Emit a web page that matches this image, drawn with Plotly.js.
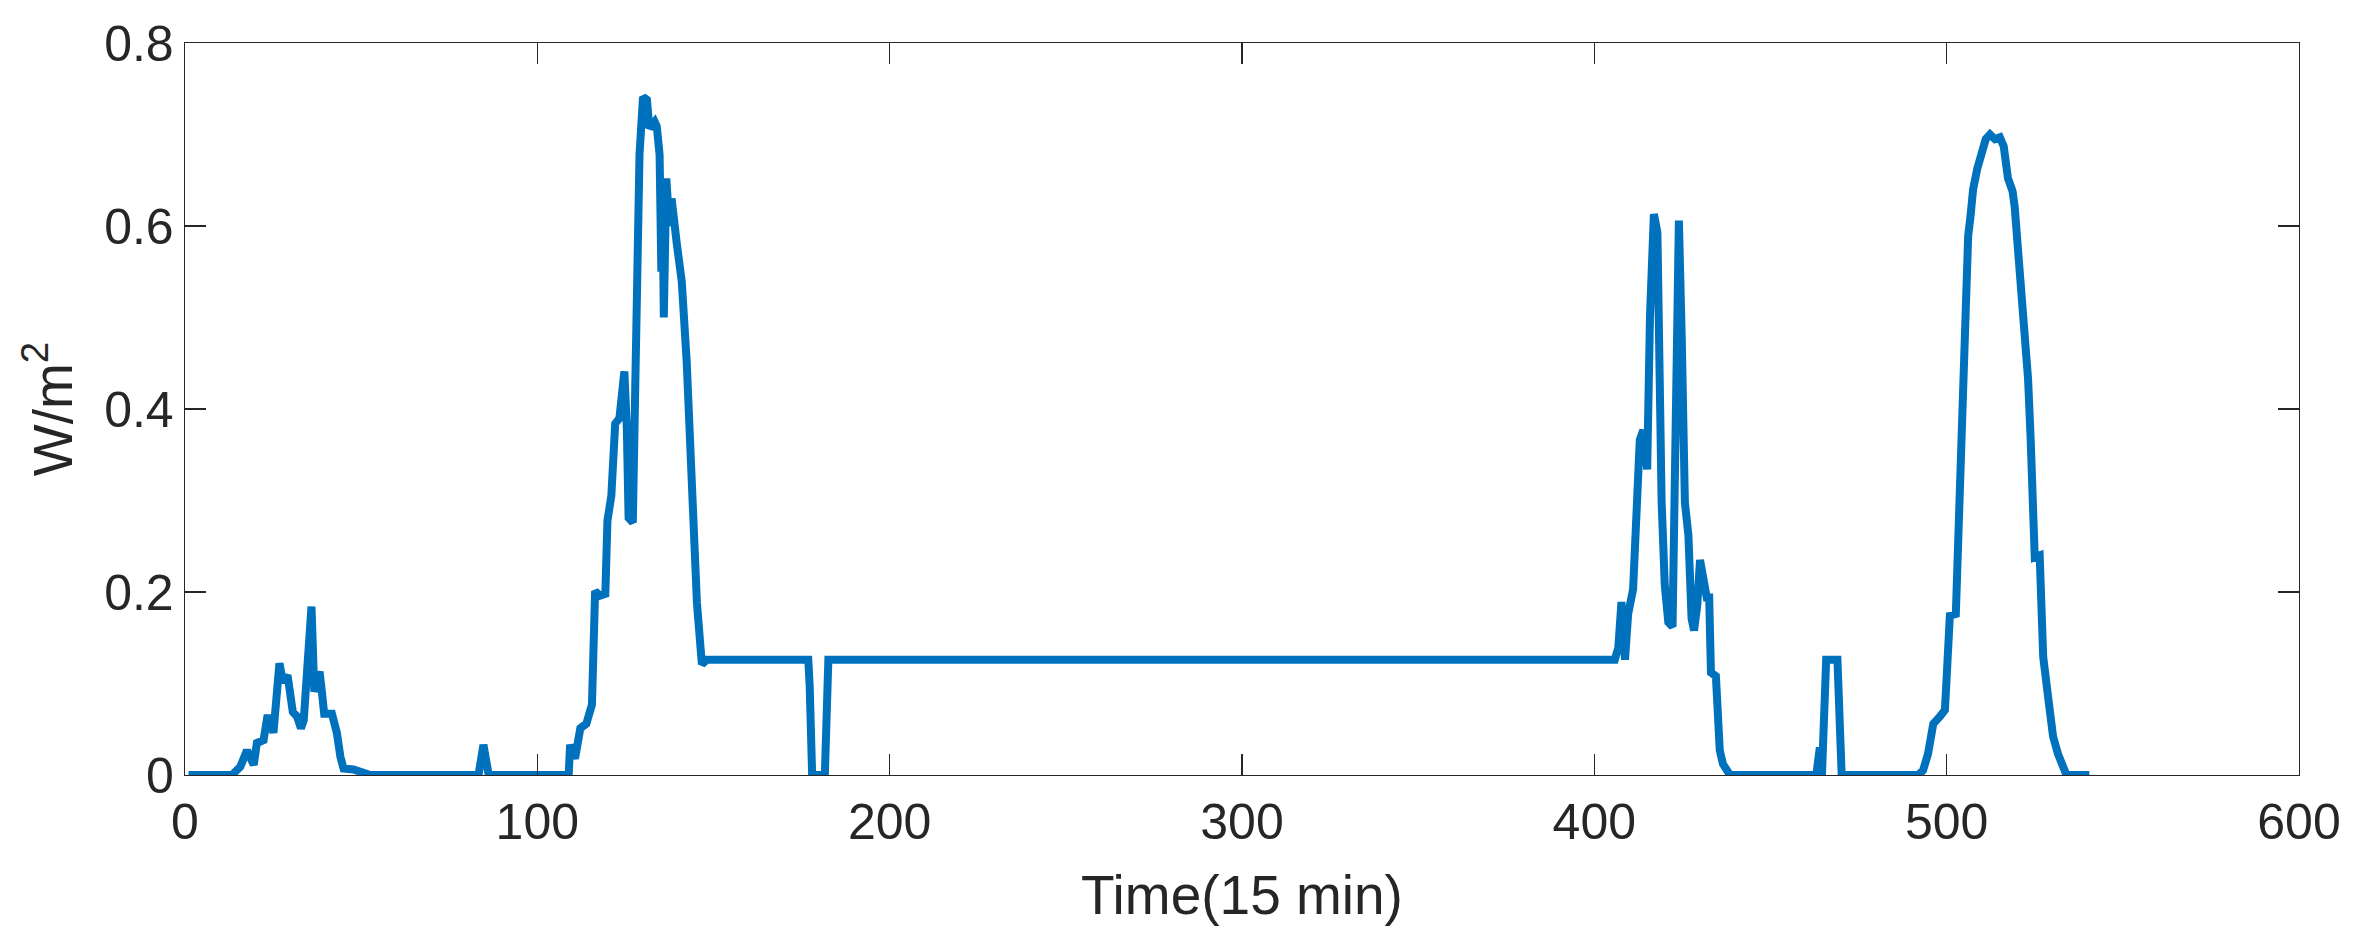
<!DOCTYPE html>
<html>
<head>
<meta charset="utf-8">
<script src="https://cdn.plot.ly/plotly-3.0.1.min.js"></script>
<style>
  html, body { margin: 0; padding: 0; background: #ffffff; }
  #chart { width: 2358px; height: 932px; }
</style>
</head>
<body>
<div id="chart"></div>
<script>
// Time index (15 min steps)
const time = [
  1, 13.3, 15.7, 17.6, 19.5, 20.4, 22.3, 23.3, 24.2, 25.1, 26.8, 27.8, 29.1, 29.9, 30.6, 31.8, 32.9, 33.7, 34.3, 35.9, 36.7, 38.2, 38.9, 39.5, 41.7, 43.1, 44.1, 45.0, 47.8, 50.7, 52.6,
  83.3, 84.7, 86.2,
  108.9, 109.3, 110.7, 112.2, 113.9, 115.5, 116.4, 117.8, 119.3, 119.9, 121.0, 122.1, 123.3, 124.7, 125.4, 125.9, 127.1, 127.8, 128.4, 129.0, 130.0, 131.1, 131.8, 133.3, 133.9, 134.7, 135.2, 135.5, 135.9, 136.6, 137.5, 138.1, 139.6, 141.0, 142.4, 143.9, 145.3, 146.7, 148.1,
  176.9, 177.3, 178.0, 181.6, 182.6,
  405.8, 406.8, 407.7, 408.7, 409.6, 411.0, 412.0, 412.9, 413.9, 415.0, 415.8, 416.9, 417.9, 418.4, 419.1, 420.0, 421.0, 422.2, 422.9, 423.3, 424.0, 424.8, 425.7, 426.7, 427.6, 428.3, 429.2, 430.0, 430.9, 431.9, 432.6, 433.1, 434.5, 435.0, 435.6, 436.5, 437.5, 438.5,
  463.0, 463.5, 464.0, 464.6, 465.2, 465.8, 469.0, 469.4, 470.2,
  491.9, 493.3, 494.7, 496.2, 498.1, 499.5, 500.0, 500.9, 502.6, 503.0, 503.7, 504.2, 504.7, 505.2, 505.6, 506.1, 506.8, 507.5, 508.7, 509.9, 511.1, 512.3, 513.7, 515.1, 516.2, 517.4, 518.7, 519.3, 520.3, 521.2, 522.2, 523.1, 523.8, 524.4, 525.0, 526.4, 526.9, 527.4, 528.8, 530.2, 531.6, 533.1, 534.0, 540.5
];
// Irradiance values (W/m^2)
const irradiance = [
  0, 0, 0.009, 0.027, 0.011, 0.035, 0.038, 0.062, 0.062, 0.046, 0.122, 0.102, 0.109, 0.086, 0.069, 0.064, 0.051, 0.06, 0.104, 0.184, 0.091, 0.113, 0.089, 0.067, 0.067, 0.046, 0.02, 0.007, 0.006, 0.003, 0,
  0, 0.033, 0,
  0, 0.033, 0.018, 0.051, 0.056, 0.077, 0.201, 0.196, 0.198, 0.278, 0.305, 0.384, 0.39, 0.441, 0.379, 0.281, 0.276, 0.426, 0.554, 0.678, 0.741, 0.738, 0.707, 0.714, 0.709, 0.678, 0.55, 0.64, 0.50, 0.652, 0.60, 0.63, 0.58, 0.539, 0.451, 0.317, 0.188, 0.121, 0.126,
  0.126, 0.097, 0, 0, 0.126,
  0.126, 0.139, 0.189, 0.126, 0.176, 0.203, 0.275, 0.366, 0.377, 0.334, 0.502, 0.613, 0.593, 0.416, 0.298, 0.207, 0.167, 0.162, 0.393, 0.511, 0.606, 0.479, 0.298, 0.262, 0.171, 0.158, 0.185, 0.235, 0.22, 0.194, 0.194, 0.112, 0.108, 0.064, 0.027, 0.012, 0.006, 0,
  0, 0.03, 0.03, 0, 0.09, 0.126, 0.126, 0.09, 0,
  0, 0.005, 0.023, 0.056, 0.064, 0.071, 0.107, 0.174, 0.176, 0.222, 0.275, 0.33, 0.396, 0.468, 0.546, 0.589, 0.612, 0.640, 0.663, 0.679, 0.695, 0.700, 0.695, 0.697, 0.687, 0.652, 0.638, 0.621, 0.574, 0.531, 0.484, 0.433, 0.371, 0.277, 0.238, 0.240, 0.184, 0.129, 0.085, 0.042, 0.023, 0.005, 0, 0
];
const xTicks = [0, 100, 200, 300, 400, 500, 600];
const yTicks = [0, 0.2, 0.4, 0.6, 0.8];
const xLabel = 'Time(15 min)';
const yLabel = 'W/m<sup>2</sup>';

const ink = '#262626';
const fontFamily = '"Liberation Sans", Arial, Helvetica, sans-serif';

const trace = {
  x: time,
  y: irradiance,
  type: 'scatter',
  mode: 'lines',
  line: { color: '#0072BD', width: 8, shape: 'linear' },
  hoverinfo: 'x+y'
};

const axisCommon = {
  showline: true,
  linecolor: ink,
  linewidth: 1.3,
  mirror: 'ticks',
  ticks: 'inside',
  ticklen: 21,
  tickwidth: 1.3,
  tickcolor: ink,
  showgrid: false,
  zeroline: false,
  tickfont: { family: fontFamily, size: 50, color: ink }
};

const layout = {
  width: 2358,
  height: 932,
  paper_bgcolor: '#ffffff',
  plot_bgcolor: '#ffffff',
  margin: { l: 185, r: 59, t: 43, b: 157 },
  showlegend: false,
  font: { family: fontFamily, color: ink },
  xaxis: Object.assign({}, axisCommon, {
    range: [0, 600],
    tickvals: xTicks,
    ticktext: xTicks.map(String),
    ticklabelstandoff: 3,
    title: { text: xLabel, font: { family: fontFamily, size: 55, color: ink }, standoff: 26 }
  }),
  yaxis: Object.assign({}, axisCommon, {
    range: [0, 0.8],
    tickvals: yTicks,
    ticktext: yTicks.map(v => String(v)),
    title: { text: yLabel, font: { family: fontFamily, size: 55, color: ink }, standoff: 14 }
  })
};

Plotly.newPlot('chart', [trace], layout, { displayModeBar: false, staticPlot: true });
</script>
</body>
</html>
